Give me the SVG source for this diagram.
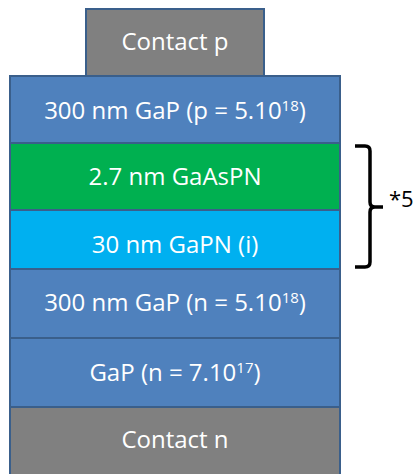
<svg xmlns="http://www.w3.org/2000/svg" width="415" height="474" viewBox="0 0 415 474">
<style>
.box{stroke:#3A5F8B;stroke-width:2}
.blue{fill:#4F81BD}
.gray{fill:#808080}
.green{fill:#00B050}
.cyan{fill:#00B0F0}
.lbl{font-family:"Open Sans","Liberation Sans",sans-serif;font-size:24px;fill:#FFFFFF;text-anchor:middle}
.sup{font-size:15px}
.brace{fill:none;stroke:#000000;stroke-width:3.5}
.note{font-family:"Open Sans","Liberation Sans",sans-serif;font-size:22px;fill:#000000}
</style>
<g id="contact-p">
<rect class="box gray" x="86" y="9" width="178" height="67"/>
<text class="lbl" x="175" y="50">Contact p</text>
</g>
<g id="gap-p">
<rect class="box blue" x="10" y="76" width="330" height="67"/>
<text class="lbl" x="175" y="119">300 nm GaP (p = 5.10<tspan class="sup" dy="-8.5">18</tspan><tspan dy="8.5">)</tspan></text>
</g>
<g id="gaaspn">
<rect class="box green" x="10" y="143" width="330" height="67"/>
<text class="lbl" x="175" y="185">2.7 nm GaAsPN</text>
</g>
<g id="gapn">
<rect class="box cyan" x="10" y="210" width="330" height="59"/>
<text class="lbl" x="175" y="253">30 nm GaPN (i)</text>
</g>
<g id="gap-n">
<rect class="box blue" x="10" y="269" width="330" height="69"/>
<text class="lbl" x="175" y="311">300 nm GaP (n = 5.10<tspan class="sup" dy="-8.5">18</tspan><tspan dy="8.5">)</tspan></text>
</g>
<g id="gap-n-sub">
<rect class="box blue" x="10" y="338" width="330" height="69"/>
<text class="lbl" x="175" y="381">GaP (n = 7.10<tspan class="sup" dy="-8.5">17</tspan><tspan dy="8.5">)</tspan></text>
</g>
<g id="contact-n">
<rect class="box gray" x="10" y="407" width="330" height="69"/>
<text class="lbl" x="175" y="448">Contact n</text>
</g>
<g id="connectors">
<path class="brace" d="M355,146 L365,146 Q370,146 370,151 L370,202 Q370,207 375,207 L383,207 M375,207 Q370,207 370,212 L370,262 Q370,267 365,267 L355,267"/>
<text class="note" x="389" y="207">*5</text>
</g>
</svg>
